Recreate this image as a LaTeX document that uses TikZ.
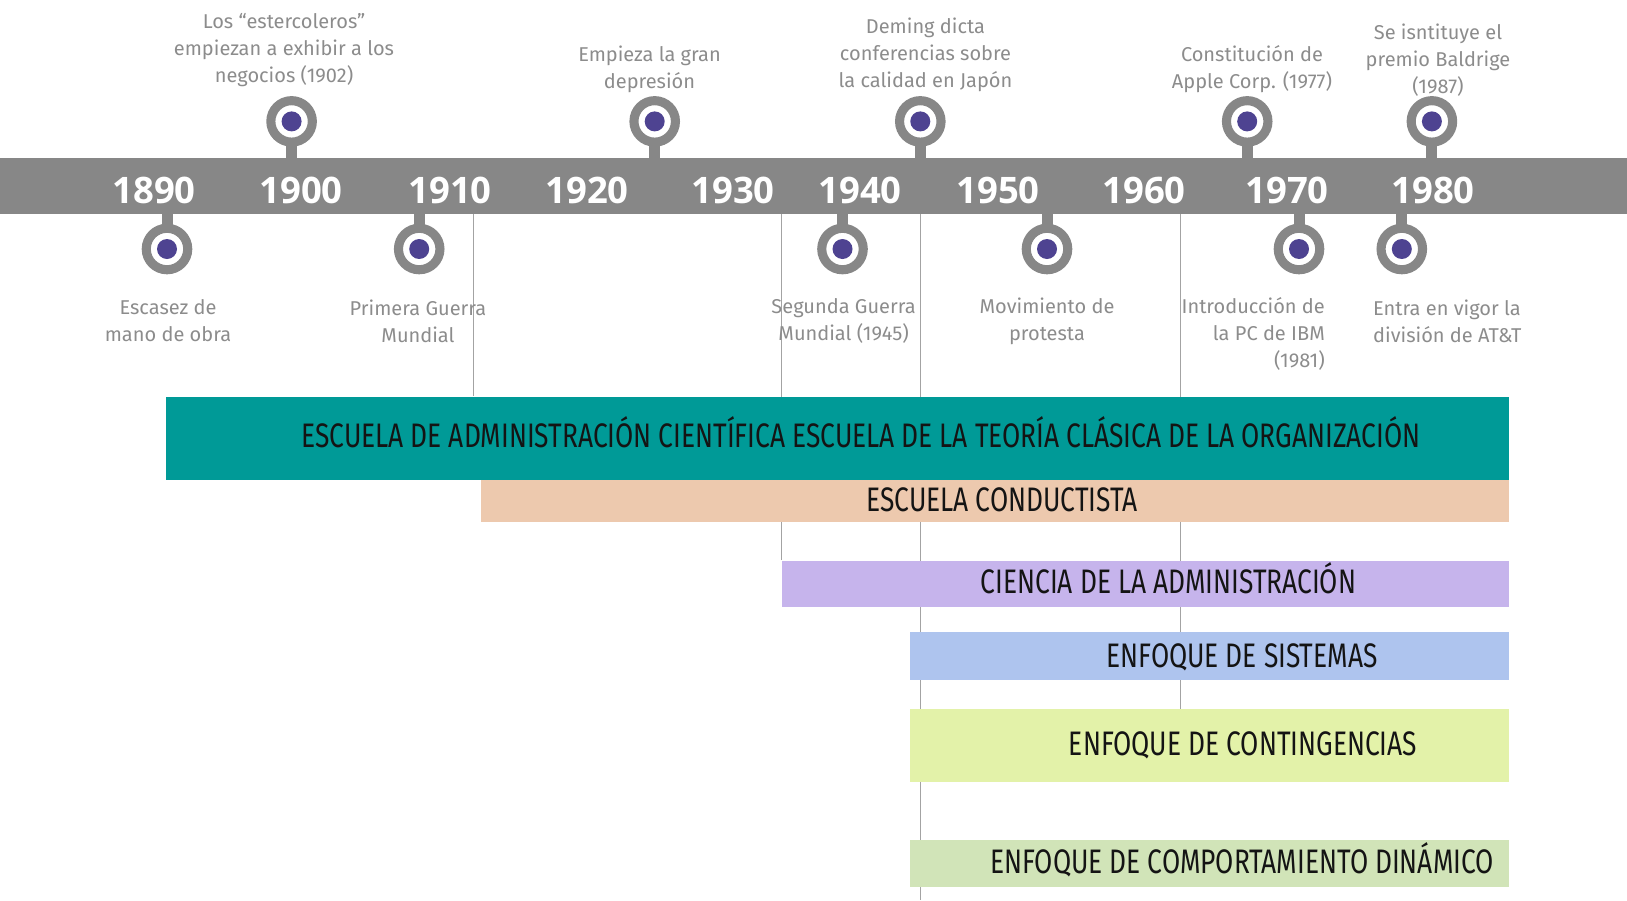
\documentclass[tikz,border=0pt]{standalone}
\usepackage{fontspec}
\setmainfont{Fira Sans}
\newfontfamily\erafont{Fira Sans}[FakeStretch=0.775]
\newfontfamily\yearfont{Open Sans}
\usetikzlibrary{positioning, backgrounds}

\definecolor{bandgray}{HTML}{878787}
\definecolor{labelgray}{HTML}{8C8C8C}
\definecolor{linegray}{HTML}{A3A3A3}
\definecolor{dotpurple}{HTML}{4E4391}
\definecolor{tealbox}{HTML}{009A97}
\definecolor{peachbox}{HTML}{EDC9AE}
\definecolor{lilacbox}{HTML}{C6B4EC}
\definecolor{bluebox}{HTML}{AEC4EE}
\definecolor{limebox}{HTML}{E3F2A9}
\definecolor{sagebox}{HTML}{D1E4B8}

\tikzset{
  band/.style={fill=bandgray, minimum width=1627pt, minimum height=56pt, inner sep=0pt},
  year/.style={text=white, font=\yearfont\bfseries\fontsize{36.5}{36.5}\selectfont, anchor=base, inner sep=0pt},
  event/.style={text=labelgray, font=\fontsize{20}{27}\selectfont, align=center, inner sep=0pt},
  ring/.style={circle, draw=bandgray, line width=9.1pt, fill=white, minimum size=41.5pt, inner sep=0pt},
  dot/.style={circle, fill=dotpurple, minimum size=20pt, inner sep=0pt},
  stem/.style={draw=bandgray, line width=11pt},
  vline/.style={draw=linegray, line width=1pt},
  era/.style={rectangle, anchor=north west, inner sep=0pt},
  eratext/.style={font=\erafont\fontsize{34}{34}\selectfont, text=black!92, anchor=base, inner sep=0pt},
}

\begin{document}
\begin{tikzpicture}[x=1pt, y=-1pt]
    \useasboundingbox (0,0) rectangle (1627,900);

    \node[band] (band) at (813.5,185.7) {};

    \foreach \x/\yr in {154/1890, 301/1900, 450/1910, 587/1920, 733/1930, 860/1940, 998/1950, 1144/1960, 1287/1970, 1433/1980}
        \node[year] (y\yr) at (\x,203.3) {\yr};

    % markers above and below the band
    \foreach \x/\n in {291.6/u1, 654.7/u2, 920.3/u3, 1247.2/u4, 1431.9/u5}{
        \node[ring] (\n) at (\x,121.4) {};
        \node[dot] at (\n) {};
        \begin{scope}[on background layer]
            \draw[stem] (\n.center) -- (\n |- band.north);
        \end{scope}
    }
    \foreach \x/\n in {167/d1, 419.2/d2, 842.5/d3, 1047/d4, 1299/d5, 1401.8/d6}{
        \node[ring] (\n) at (\x,249) {};
        \node[dot] at (\n) {};
        \begin{scope}[on background layer]
            \draw[stem] (\n.center) -- (\n |- band.south);
        \end{scope}
    }

    \node[event] (estercoleros) at (284,49.7) {Los “estercoleros”\\empiezan a exhibir a los\\negocios (1902)};
    \node[event] (depresion) at (649.5,69) {Empieza la gran\\depresión};
    \node[event] (deming) at (925.5,55) {Deming dicta\\conferencias sobre\\la calidad en Japón};
    \node[event] (apple) at (1252,69) {Constitución de\\Apple Corp. (1977)};
    \node[event] (baldrige) at (1438,60) {Se isntituye el\\premio Baldrige\\(1987)};

    \node[event] (escasez) at (168,321) {Escasez de\\mano de obra};
    \node[event] (primera) at (418,321) {Primera Guerra\\Mundial};
    \node[event] (segunda) at (843.6,321) {Segunda Guerra\\Mundial (1945)};
    \node[event] (protesta) at (1047,321) {Movimiento de\\protesta};
    \node[event, align=right, anchor=east] (ibm) at (1325,334) {Introducción de\\la PC de IBM\\(1981)};
    \node[event, align=left, anchor=west] (att) at (1373,321) {Entra en vigor la\\división de AT\&T};

    % schools
    \node[era, fill=tealbox, minimum width=1342.7pt, minimum height=83pt] (teal) at (166,396.4) {};
    \node[era, fill=peachbox, minimum width=1028.3pt, minimum height=42.6pt] (peach) at (480.4,479.4) {};
    \node[era, fill=lilacbox, minimum width=727.4pt, minimum height=46.7pt] (lilac) at (781.3,560.3) {};
    \node[era, fill=bluebox, minimum width=598.7pt, minimum height=47.6pt] (blue) at (910,632) {};
    \node[era, fill=limebox, minimum width=598.7pt, minimum height=72.6pt] (lime) at (910,708.7) {};
    \node[era, fill=sagebox, minimum width=598.7pt, minimum height=47.6pt] (sage) at (910,839.4) {};

    \node[eratext] (tealtext) at (861,447.2) {ESCUELA DE ADMINISTRACIÓN CIENTÍFICA ESCUELA DE LA TEORÍA CLÁSICA DE LA ORGANIZACIÓN};
    \node[eratext] (peachtext) at (1002,511.5) {ESCUELA CONDUCTISTA};
    \node[eratext] (lilactext) at (1168.5,593.5) {CIENCIA DE LA ADMINISTRACIÓN};
    \node[eratext] (bluetext) at (1242,667) {ENFOQUE DE SISTEMAS};
    \node[eratext] (limetext) at (1243,755.4) {ENFOQUE DE CONTINGENCIAS};
    \node[eratext] (sagetext) at (1242,873.7) {ENFOQUE DE COMPORTAMIENTO DINÁMICO};

    \coordinate (c1912) at (473,0);
    \coordinate (c1945) at (920.3,900);
    \coordinate (c1964) at (1180.8,0);
    \begin{scope}[on background layer]
        \draw[vline] (band.south -| c1912) -- (teal.north -| c1912);
        \draw[vline] (band.south -| lilac.west) -- (lilac.north west);
        \draw[vline] (band.south -| c1945) -- (c1945);
        \draw[vline] (band.south -| c1964) -- (lime.north -| c1964);
    \end{scope}
\end{tikzpicture}
\end{document}
